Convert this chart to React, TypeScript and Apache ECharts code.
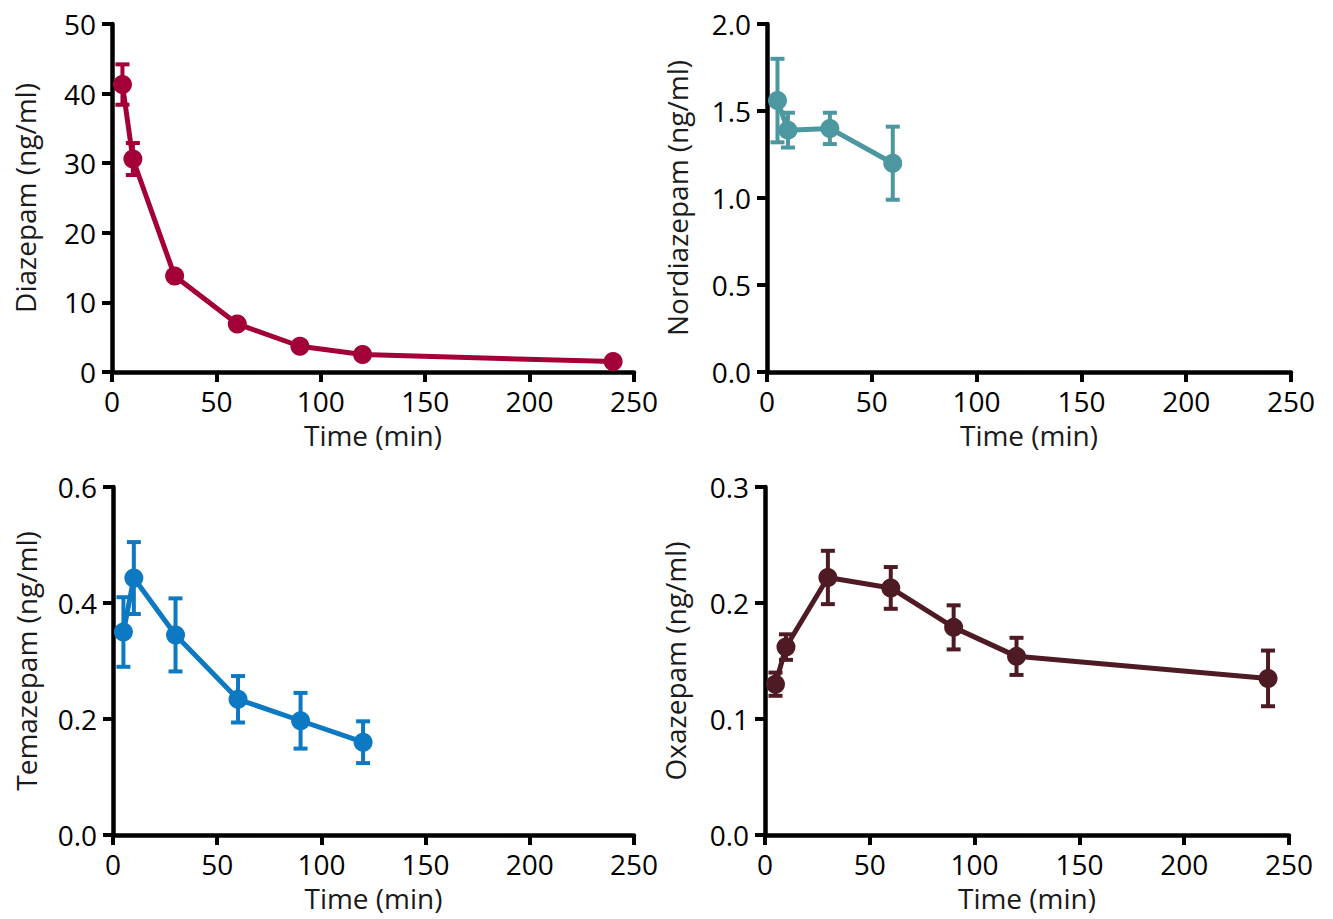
import React, { useEffect, useRef } from "react";
import * as echarts from "echarts";

// ---- data ----
const timeDiazepam = [5, 10, 30, 60, 90, 120, 240];
const diazepamMean = [41.3, 30.6, 13.8, 6.9, 3.7, 2.5, 1.5];
const diazepamSem = [2.9, 2.3, 0.6, 0.5, 0.3, 0.2, 0.2];

const timeNordiazepam = [5, 10, 30, 60];
const nordiazepamMean = [1.56, 1.39, 1.4, 1.2];
const nordiazepamSem = [0.24, 0.1, 0.09, 0.21];

const timeTemazepam = [5, 10, 30, 60, 90, 120];
const temazepamMean = [0.35, 0.443, 0.345, 0.234, 0.197, 0.16];
const temazepamSem = [0.06, 0.062, 0.063, 0.04, 0.048, 0.036];

const timeOxazepam = [5, 10, 30, 60, 90, 120, 240];
const oxazepamMean = [0.13, 0.162, 0.222, 0.213, 0.179, 0.154, 0.135];
const oxazepamSem = [0.01, 0.011, 0.023, 0.018, 0.019, 0.016, 0.024];

const xTicks = { min: 0, max: 250, interval: 50 };
const panelNames = ["Diazepam (ng/ml)", "Nordiazepam (ng/ml)", "Temazepam (ng/ml)", "Oxazepam (ng/ml)"];
const yMax = [50, 2.0, 0.6, 0.3];
const yInterval = [10, 0.5, 0.2, 0.1];
const yDecimals = [0, 1, 1, 1];
const colors = ["#A3003A", "#4C97A0", "#0D79C2", "#4E1B25"];

const FONT = "'Open Sans', Lato, sans-serif";

export default function App() {
  const ref = useRef<HTMLDivElement>(null);
  useEffect(() => {
    if (!ref.current) return;
    const chart = echarts.init(ref.current, undefined, { renderer: "svg" });

    const panels = [
      { t: timeDiazepam, m: diazepamMean, s: diazepamSem },
      { t: timeNordiazepam, m: nordiazepamMean, s: nordiazepamSem },
      { t: timeTemazepam, m: temazepamMean, s: temazepamSem },
      { t: timeOxazepam, m: oxazepamMean, s: oxazepamSem },
    ];

    const grids = [
      { left: 112, top: 24, width: 522, height: 348 },
      { left: 767, top: 24, width: 524, height: 348 },
      { left: 113, top: 487, width: 521, height: 348 },
      { left: 765, top: 487, width: 524, height: 348 },
    ];

    const axisLine = { show: true, onZero: false, lineStyle: { color: "#000", width: 4.5 } };
    const axisTick = { show: true, length: 10, lineStyle: { color: "#000", width: 4 } };

    const xAxis = grids.map((_, i) => ({
      type: "value",
      gridIndex: i,
      min: xTicks.min,
      max: xTicks.max,
      interval: xTicks.interval,
      axisLine,
      axisTick,
      splitLine: { show: false },
      axisLabel: { fontSize: 28, fontFamily: FONT, color: "#000", margin: 15 },
      name: "Time (min)",
      nameLocation: "middle",
      nameGap: 49,
      nameTextStyle: { fontSize: 28, fontFamily: FONT, color: "#1a1a1a" },
    }));

    const yAxis = grids.map((_, i) => ({
      type: "value",
      gridIndex: i,
      min: 0,
      max: yMax[i],
      interval: yInterval[i],
      axisLine,
      axisTick,
      splitLine: { show: false },
      axisLabel: {
        fontSize: 28,
        fontFamily: FONT,
        color: "#000",
        margin: 16,
        formatter: (v: number) => v.toFixed(yDecimals[i]),
      },
      name: panelNames[i],
      nameLocation: "middle",
      nameGap: i % 2 === 0 ? 73 : 76,
      nameTextStyle: { fontSize: 28, fontFamily: FONT, color: "#1a1a1a" },
    }));

    const series: any[] = [];
    panels.forEach((p, i) => {
      const color = colors[i];
      series.push({
        type: "custom",
        xAxisIndex: i,
        yAxisIndex: i,
        z: 2,
        data: p.t.map((t, k) => [t, p.m[k] - p.s[k], p.m[k] + p.s[k]]),
        encode: { x: 0, y: [1, 2] },
        renderItem: (params: any, api: any) => {
          const x = api.value(0);
          const hi = api.coord([x, api.value(2)]);
          const lo = api.coord([x, api.value(1)]);
          const half = 7;
          const style = { stroke: color, lineWidth: 4 };
          return {
            type: "group",
            children: [
              { type: "line", shape: { x1: hi[0], y1: hi[1], x2: lo[0], y2: lo[1] }, style },
              { type: "line", shape: { x1: hi[0] - half, y1: hi[1], x2: hi[0] + half, y2: hi[1] }, style },
              { type: "line", shape: { x1: lo[0] - half, y1: lo[1], x2: lo[0] + half, y2: lo[1] }, style },
            ],
          };
        },
      });
      series.push({
        type: "line",
        xAxisIndex: i,
        yAxisIndex: i,
        z: 3,
        data: p.t.map((t, k) => [t, p.m[k]]),
        symbol: "circle",
        symbolSize: 19,
        lineStyle: { color, width: 5 },
        itemStyle: { color },
      });
    });

    chart.setOption({
      animation: false,
      backgroundColor: "#fff",
      grid: grids,
      xAxis,
      yAxis,
      series,
    });
    return () => chart.dispose();
  }, []);

  return (
    <div
      ref={ref}
      style={{ position: "fixed", left: 0, top: 0, width: 1333, height: 919 }}
    />
  );
}
